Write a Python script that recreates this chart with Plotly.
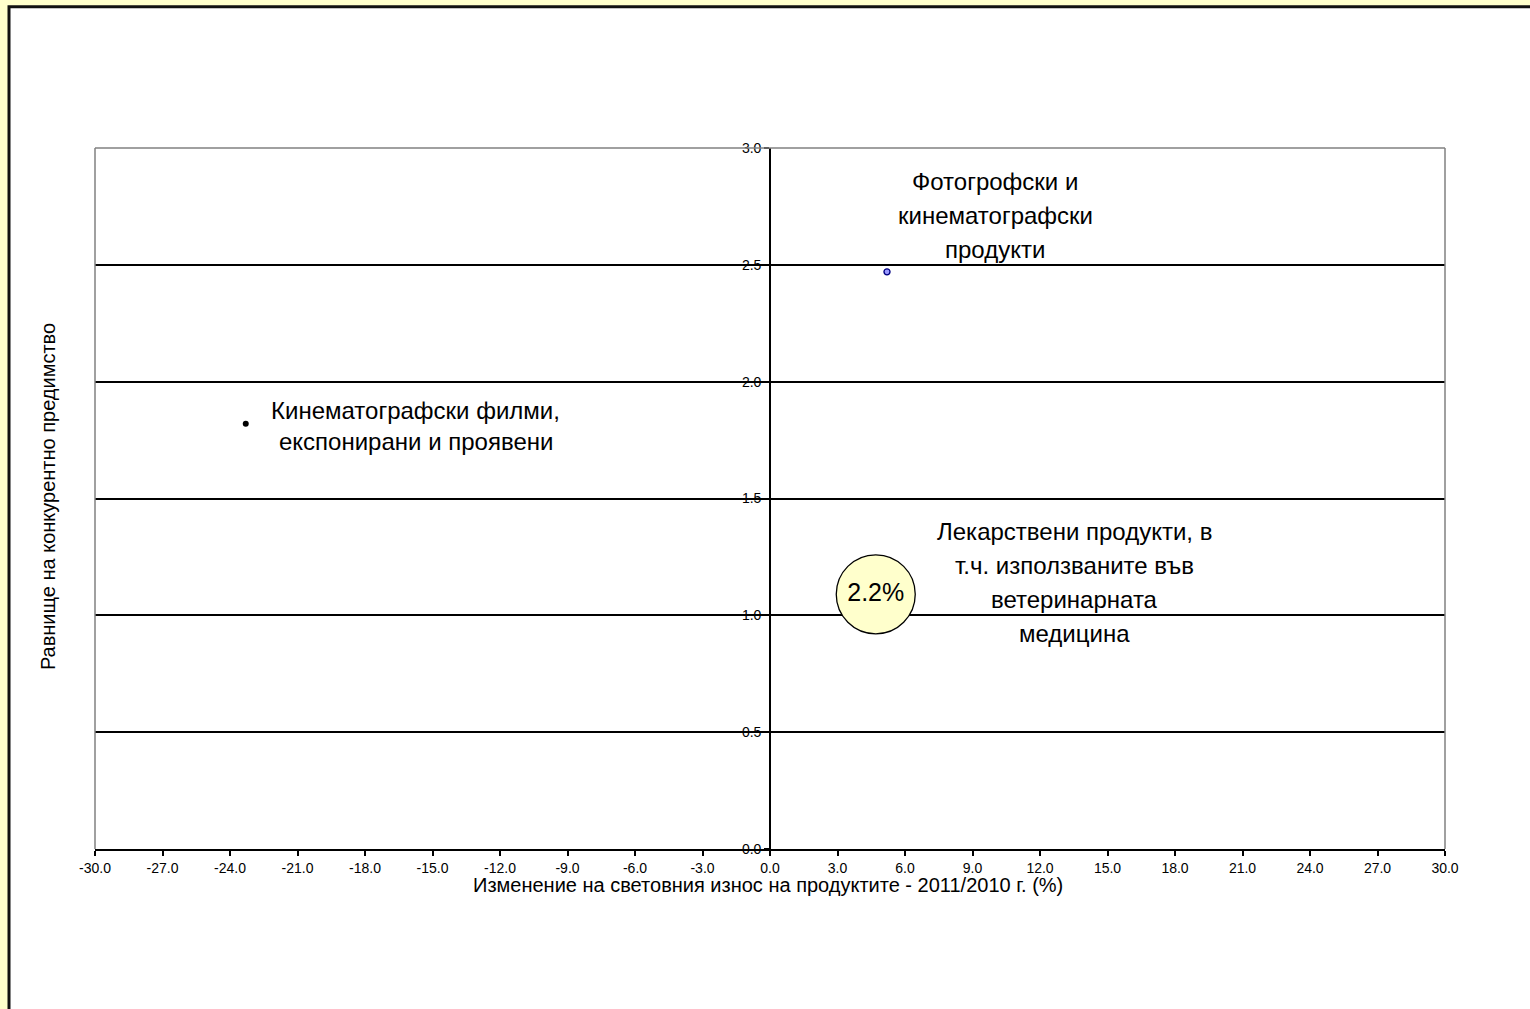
import plotly.graph_objects as go

# ---- data ----
products = [
    "Фотогрофски и кинематографски продукти",
    "Кинематографски филми, експонирани и проявени",
    "Лекарствени продукти, в т.ч. използваните във ветеринарната медицина",
]
label_lines = [
    ["Фотогрофски и", "кинематографски", "продукти"],
    ["Кинематографски филми,", "експонирани и проявени"],
    ["Лекарствени продукти, в", "т.ч. използваните във", "ветеринарната", "медицина"],
]
export_change = [5.2, -23.3, 4.7]      # x: % change of world export 2011/2010
advantage = [2.47, 1.82, 1.09]        # y: level of competitive advantage
share = [0.013, 0.003, 2.2]           # bubble size (share, %)
share_text = ["", "", "2.2%"]

x_ticks = [-30 + 3 * i for i in range(21)]
y_ticks = [0, 0.5, 1.0, 1.5, 2.0, 2.5, 3.0]

x_title = "Изменение на световния износ на продуктите - 2011/2010 г. (%)"
y_title = "Равнище на конкурентно предимство"

# ---- styles ----
FONT = "Liberation Sans, Arial, sans-serif"
fill_colors = ["#9999FF", "#000000", "#FFFFCC"]
line_colors = ["#000080", "#000000", "#000000"]
line_widths = [1.3, 0, 1.3]
max_diam = 79
sizeref = 2.0 * max(share) / (max_diam ** 2)

# label offsets (pixels from the point) : (dx, [dy per line])
label_offsets = [
    (108, [90, 56, 22]),
    (170, [13, -18]),
    (199, [63, 29, -5, -39]),
]

fig = go.Figure()
fig.add_trace(go.Scatter(
    x=export_change, y=advantage, mode="markers+text",
    text=share_text, textposition="middle center",
    textfont=dict(family=FONT, size=25, color="#000000"),
    marker=dict(size=share, sizemode="area", sizeref=sizeref, sizemin=3,
                color=fill_colors, opacity=1,
                line=dict(color=line_colors, width=line_widths)),
    hovertext=products, hoverinfo="text+x+y", showlegend=False,
))

annotations = []
for xi, yi, lines, (dx, dys) in zip(export_change, advantage, label_lines, label_offsets):
    for line, dy in zip(lines, dys):
        annotations.append(dict(
            x=xi, y=yi, xref="x", yref="y", text=line, showarrow=False,
            xshift=dx, yshift=dy, xanchor="center", yanchor="middle",
            font=dict(family=FONT, size=24, color="#000000"),
        ))

annotations.append(dict(
    x=0.4985, y=-0.052, xref="paper", yref="paper", text=x_title, showarrow=False,
    xanchor="center", yanchor="middle", font=dict(family=FONT, size=20, color="#000000"),
))
annotations.append(dict(
    x=-0.0348, y=0.502, xref="paper", yref="paper", text=y_title, showarrow=False,
    textangle=-90, xanchor="center", yanchor="middle",
    font=dict(family=FONT, size=20, color="#000000"),
))

shapes = [
    # outer white panel with dark border (chart area)
    dict(type="rect", xref="paper", yref="paper", x0=-0.0637, x1=1.075, y0=-0.25, y1=1.2015,
         fillcolor="#FFFFFF", line=dict(color="#111111", width=3), layer="below"),
    # grey plot-area frame: left, top, right
    dict(type="line", xref="paper", yref="paper", x0=0, x1=0, y0=0, y1=1,
         line=dict(color="#808080", width=1.5), layer="above"),
    dict(type="line", xref="paper", yref="paper", x0=0, x1=1, y0=1, y1=1,
         line=dict(color="#808080", width=1.5), layer="above"),
    dict(type="line", xref="paper", yref="paper", x0=1, x1=1, y0=0, y1=1,
         line=dict(color="#808080", width=1.5), layer="above"),
]

fig.update_layout(
    width=1530, height=1009,
    margin=dict(l=95, r=85, t=148, b=160),
    paper_bgcolor="#FFFFCC", plot_bgcolor="rgba(0,0,0,0)",
    font=dict(family=FONT, color="#000000"),
    shapes=shapes, annotations=annotations,
    xaxis=dict(range=[-30, 30], tickvals=x_ticks,
               ticktext=[f"{v:.1f}" for v in x_ticks],
               showgrid=False, zeroline=False,
               showline=True, linecolor="#000000", linewidth=1.6,
               ticks="outside", ticklen=5, tickcolor="#000000", tickwidth=1.5,
               tickfont=dict(family=FONT, size=14, color="#000000")),
    yaxis=dict(range=[0, 3], tickvals=y_ticks,
               ticktext=[f"{v:.1f}" for v in y_ticks],
               anchor="free", position=0.5,
               showgrid=True, gridcolor="#000000", gridwidth=1.6, zeroline=False,
               showline=True, linecolor="#000000", linewidth=1.6,
               ticks="outside", ticklen=5, tickcolor="#000000", tickwidth=1.5,
               ticklabelstandoff=0,
               tickfont=dict(family=FONT, size=14, color="#000000")),
)

fig.write_html(
    "out.html",
    config={"displayModeBar": False},
    post_script="document.body.style.margin='0';document.body.style.background='#FFFFCC';",
)
